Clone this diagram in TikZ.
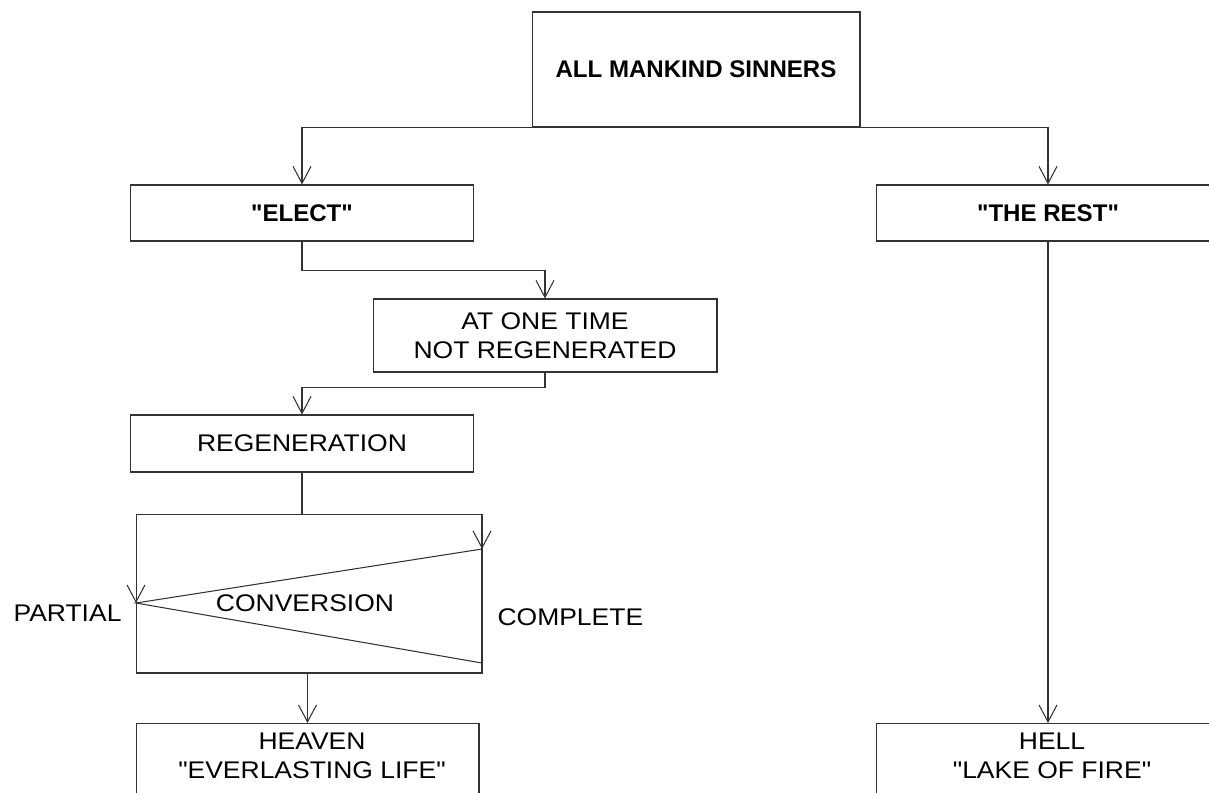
\documentclass[tikz,border=0pt]{standalone}
\usepackage{fontspec}
\setmainfont{Liberation Sans}[Ligatures=TeXOff,FakeStretch=1.1]
\newfontfamily\plainbold{Liberation Sans}[Ligatures=TeXOff]
\usetikzlibrary{arrows.meta}

\newcommand{\chartfont}{\fontsize{13.7pt}{16.5pt}\selectfont}

\begin{document}
\begin{tikzpicture}[x=0.02cm,y=-0.02cm,line width=0.6pt,font=\chartfont]
	\tikzstyle{box}=[draw=black!80,shape=rectangle,inner sep=0pt,align=center]
	\tikzstyle{bold}=[font=\chartfont\plainbold\bfseries]
	\tikzstyle{arr}=[draw=black!80,-{Straight Barb[length=0.34cm,width=0.36cm]}]
	\tikzstyle{line}=[draw=black!80]

	\useasboundingbox (0,0) rectangle (1209,792);
	\clip (0,0) rectangle (1209,792);

	\node[box,bold,minimum width=6.56cm,minimum height=2.3cm](all) at (696,69.5){ALL MANKIND SINNERS};

	\node[box,bold,minimum width=6.86cm,minimum height=1.12cm](elect) at (302,213){"ELECT"};
	\node[box,bold,minimum width=6.88cm,minimum height=1.12cm](rest) at (1048,213){"THE REST"};

	\node[box,minimum width=6.88cm,minimum height=1.46cm](once) at (545,335.5){AT ONE TIME\\NOT REGENERATED};
	\node[box,minimum width=6.86cm,minimum height=1.14cm](regen) at (302,443.5){REGENERATION};

	\node[box,minimum width=6.92cm,minimum height=3.18cm](conv) at (309,593.5){};
	\node(convlbl) at (305,603){CONVERSION};
	\node[anchor=east,inner sep=0pt](partial) at (122,613){PARTIAL};
	\node[anchor=west,inner sep=0pt](complete) at (497,617){COMPLETE};

	\coordinate (p) at (136,603);
	\coordinate (ctop) at (482,549);
	\coordinate (cbot) at (482,663);

	\node[box,anchor=north,minimum width=6.86cm,minimum height=3cm](heaven) at (307.5,723){};
	\node[anchor=north,inner sep=0pt,align=center](heavenlbl) at (312,732){HEAVEN\\"EVERLASTING LIFE"};
	\node[box,anchor=north,minimum width=6.88cm,minimum height=3cm](hell) at (1048,723){};
	\node[anchor=north,inner sep=0pt,align=center](helllbl) at (1052,732){HELL\\"LAKE OF FIRE"};

	\draw[arr] (all.south west) -| (elect.north);
	\draw[arr] (all.south east) -| (rest.north);

	\draw[arr] (elect.south) -- ++(0,29) -| (once.north);
	\draw[arr] (once.south) -- ++(0,15) -| (regen.north);
	\draw[line] (regen.south) -- (regen.south |- conv.north);

	\draw[line] (ctop) -- (p) -- (cbot);
	\draw[arr] (ctop) ++(0,-1) -- (ctop);
	\draw[arr] (p) ++(0,-1) -- (p);

	\draw[arr] (conv.south -| heaven.north) -- (heaven.north);
	\draw[arr] (rest.south) -- (hell.north);
\end{tikzpicture}
\end{document}
